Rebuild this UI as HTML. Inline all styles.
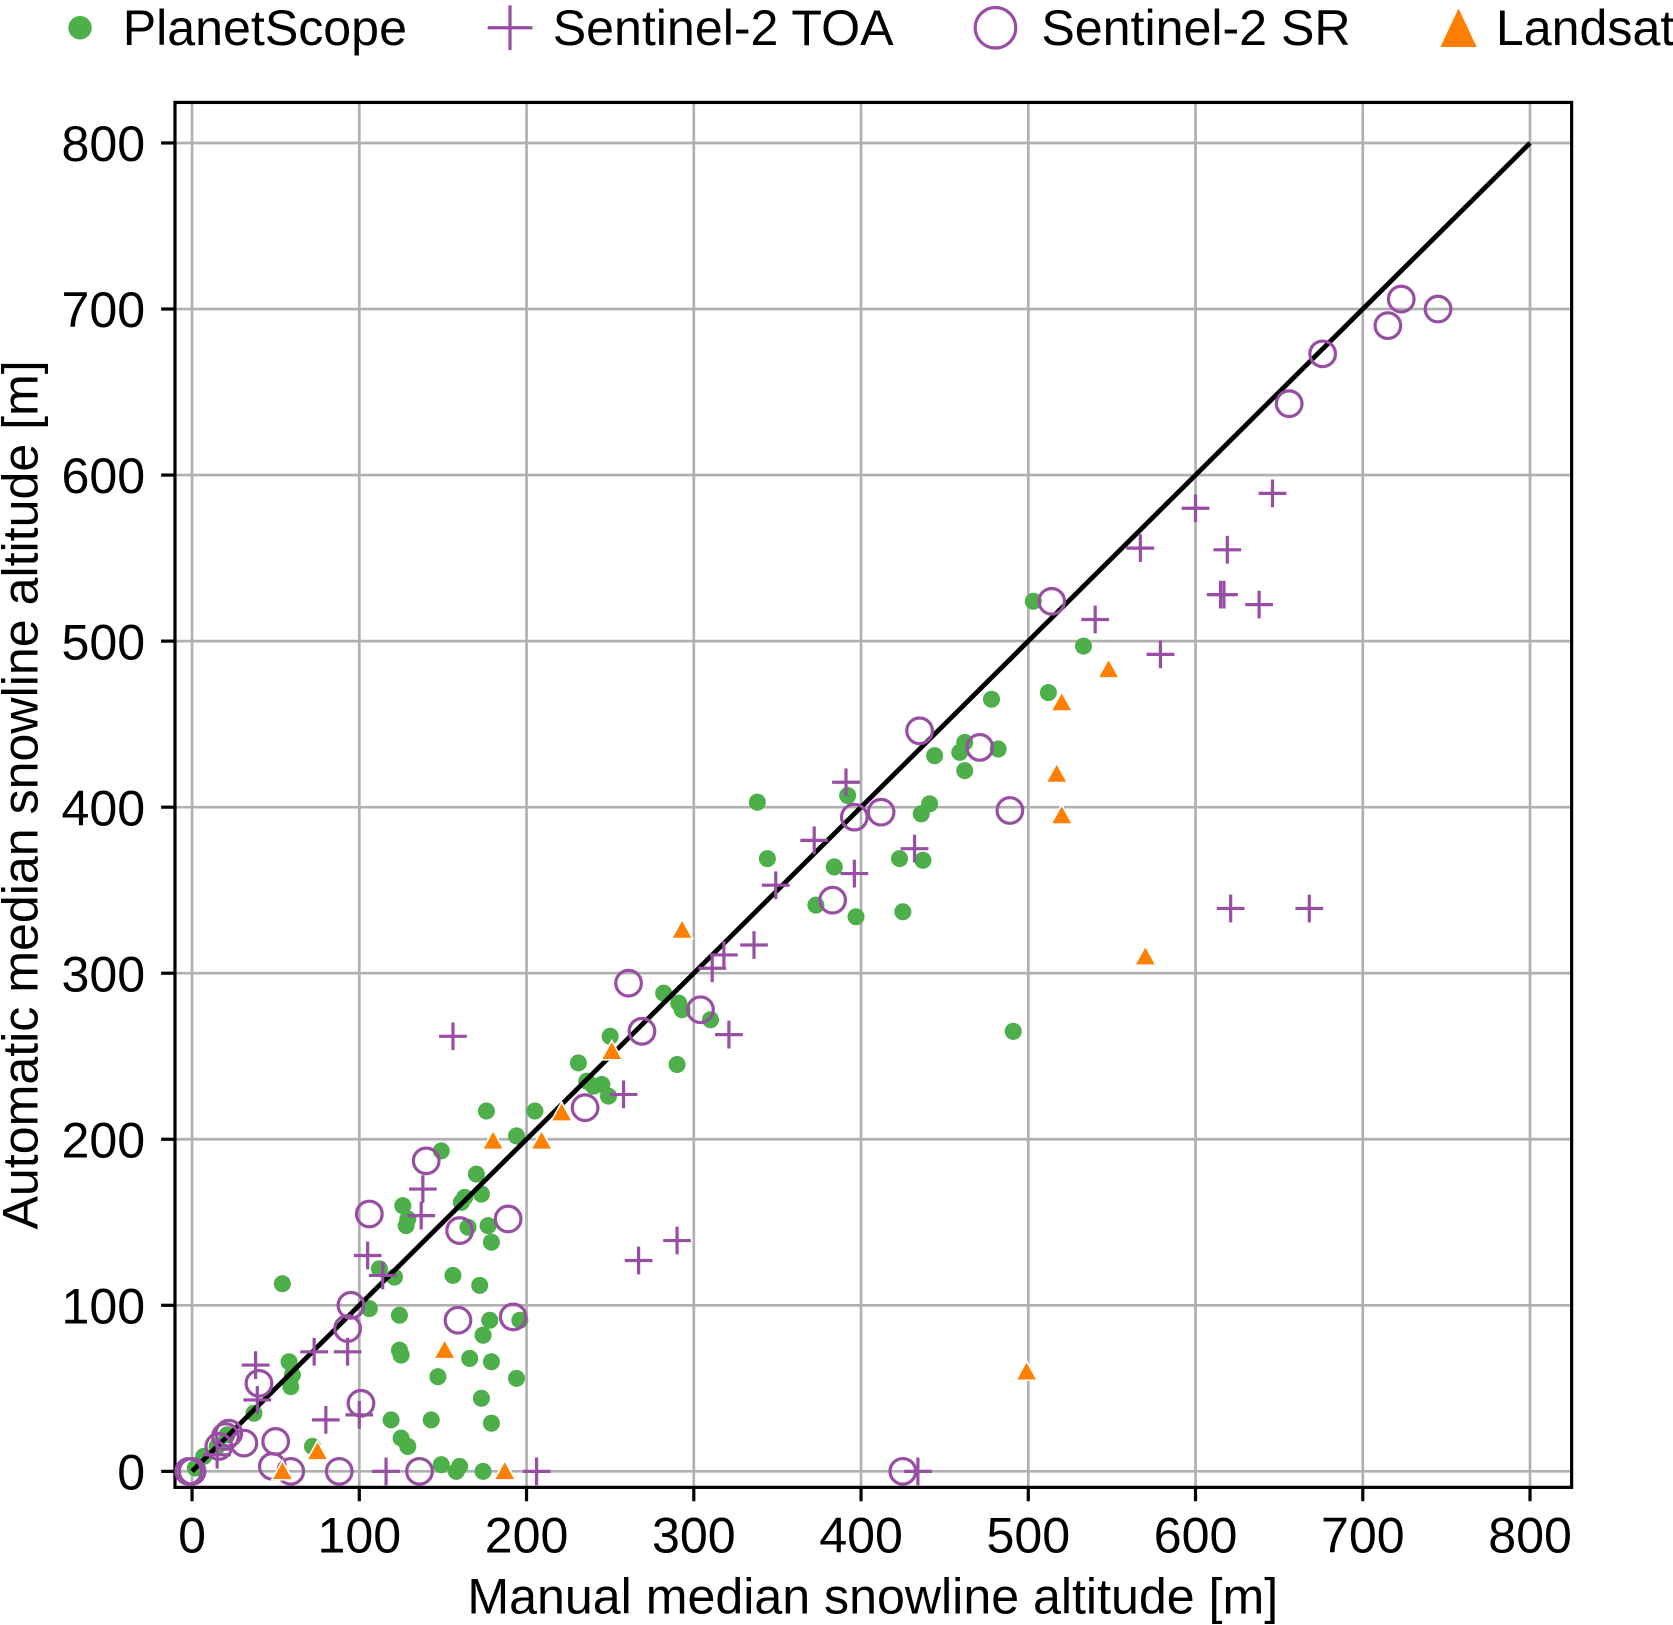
<!DOCTYPE html>
<html><head><meta charset="utf-8"><style>
html,body{margin:0;padding:0;background:#fff;}
svg{display:block;font-family:"Liberation Sans",Arial,sans-serif;}
</style></head><body>
<svg id="chart" width="1673" height="1625" viewBox="0 0 1568 1523" xmlns="http://www.w3.org/2000/svg">
<g id="grid"></g>
<g id="axes"></g>
<g id="marks"></g>
<g id="legend"></g>
</svg>
<script>
const xTicks=[0,100,200,300,400,500,600,700,800];
const yTicks=[0,100,200,300,400,500,600,700,800];
const planetX=[2,7,15,21,37,54,58,60,59,72,106,112,121,119,124,124,125,126,128,129,125,129,143,147,149,149,156,158,161,163,160,165,166,170,173,172,173,174,174,176,177,178,179,179,179,194,194,196,205,231,236,240,245,249,250,282,290,291,293,310,338,344,373,384,392,397,423,425,436,437,441,444,459,462,462,478,482,491,503,512,533];
const planetY=[2,9,15,22,35,113,66,58,51,15,98,122,117,31,94,73,70,160,148,152,20,15,31,57,193,4,118,0,162,165,3,147,68,179,167,112,44,0,82,217,148,91,66,138,29,202,56,91,217,246,235,232,233,226,262,288,245,282,278,272,403,369,341,364,407,334,369,337,396,368,402,431,433,439,422,465,435,265,524,469,497];
const toaX=[15,38,39,73,93,80,100,105,114,116,138,137,156,206,258,267,290,311,318,321,336,349,372,391,396,432,434,540,567,579,600,615,619,617,621,638,646,668];
const toaY=[10,64,43,72,72,31,34,130,118,0,170,154,262,0,227,127,139,303,311,263,317,353,380,415,360,375,0,513,556,492,580,528,555,528,339,522,589,339];
const srX=[0,-2,16,20,22,31,40,50,48,59,88,136,93,95,101,106,140,159,160,189,192,235,261,269,304,383,396,412,435,471,489,514,425,656,676,715,723,745];
const srY=[0,0,15,21,23,17,53,18,3,0,0,0,86,100,41,155,187,91,145,152,93,219,294,265,278,344,394,397,446,436,398,524,0,643,673,690,706,700];
const landsatX=[54,75,151,180,187,209,221,251,293,499,517,520,520,548,570];
const landsatY=[0,12,73,199,0,199,216,253,326,60,420,463,395,483,310];

const NS='http://www.w3.org/2000/svg';
const L=164,R=1473,T=96,B=1394;
const FS=47;
function sx(v){return 180+v*1.5675;}
function sy(v){return 1379-v*1.55625;}
function mk(tag,attrs,parent){const e=document.createElementNS(NS,tag);for(const k in attrs)e.setAttribute(k,attrs[k]);parent.appendChild(e);return e;}
const grid=document.getElementById('grid'),axes=document.getElementById('axes'),marks=document.getElementById('marks'),legend=document.getElementById('legend');
const G='#4daf4a',P='#984ea3',O='#ff7f00';

xTicks.forEach(t=>{
  const g=mk('line',{x1:sx(t),x2:sx(t),y1:T,y2:B,stroke:'#b0b0b0','stroke-width':2.5},grid);
  
  const tk=mk('line',{x1:sx(t),x2:sx(t),y1:B,y2:B+13,stroke:'#000','stroke-width':3},axes);
  
  const tx=mk('text',{x:sx(t),y:B+61,'text-anchor':'middle','font-size':FS},axes);tx.textContent=t;
  
});
yTicks.forEach(t=>{
  const g=mk('line',{x1:L,x2:R,y1:sy(t),y2:sy(t),stroke:'#b0b0b0','stroke-width':2.5},grid);
  
  const tk=mk('line',{x1:L-13,x2:L,y1:sy(t),y2:sy(t),stroke:'#000','stroke-width':3},axes);
  
  const tx=mk('text',{x:L-28,y:sy(t)+17,'text-anchor':'end','font-size':FS},axes);tx.textContent=t;
  
});
const frame=mk('rect',{x:L,y:T,width:R-L,height:B-T,fill:'none',stroke:'#000','stroke-width':3},axes);

const xl=mk('text',{x:818,y:1512,'text-anchor':'middle','font-size':FS},axes);xl.textContent='Manual median snowline altitude [m]';

const yl=mk('text',{x:0,y:0,'text-anchor':'middle','font-size':FS,transform:'translate(35,745) rotate(-90)'},axes);yl.textContent='Automatic median snowline altitude [m]';


function dot(x,y,p){return mk('circle',{cx:x,cy:y,r:8,fill:G},p);}
function plus(x,y,p){return mk('path',{d:`M${x-13},${y}H${x+13}M${x},${y-13}V${y+13}`,stroke:P,'stroke-width':3,fill:'none'},p);}
function ring(x,y,p){return mk('circle',{cx:x,cy:y,r:12,fill:'none',stroke:P,'stroke-width':3},p);}
function tri(x,y,p,s){s=s||10;return mk('path',{d:`M${x},${y-s}L${x+s},${y+s*0.8}L${x-s},${y+s*0.8}Z`,fill:O,stroke:'#fff','stroke-width':1.5},p);}

planetX.forEach((v,i)=>{const e=dot(sx(v),sy(planetY[i]),marks);
  });
const one=mk('line',{x1:sx(0),y1:sy(0),x2:sx(800),y2:sy(800),stroke:'#000','stroke-width':4.5},marks);

toaX.forEach((v,i)=>{const e=plus(sx(v),sy(toaY[i]),marks);
  });
srX.forEach((v,i)=>{const e=ring(sx(v),sy(srY[i]),marks);
  });
landsatX.forEach((v,i)=>{const e=tri(sx(landsatX[i]),sy(landsatY[i]),marks);
  });

let e;
e=mk('circle',{cx:75,cy:26,r:11,fill:G},legend);
e=mk('text',{x:115,y:42,'font-size':FS},legend);e.textContent='PlanetScope';
e=mk('path',{d:'M457,26H499M478,5V47',stroke:P,'stroke-width':3,fill:'none'},legend);
e=mk('text',{x:518,y:42,'font-size':FS},legend);e.textContent='Sentinel-2 TOA';
e=mk('circle',{cx:933,cy:26,r:19,fill:'none',stroke:P,'stroke-width':3},legend);
e=mk('text',{x:976,y:42,'font-size':FS},legend);e.textContent='Sentinel-2 SR';
e=mk('path',{d:'M1367,8L1384,44L1350,44Z',fill:O},legend);
e=mk('text',{x:1402,y:42,'font-size':FS},legend);e.textContent='Landsat';
</script>
</body></html>
